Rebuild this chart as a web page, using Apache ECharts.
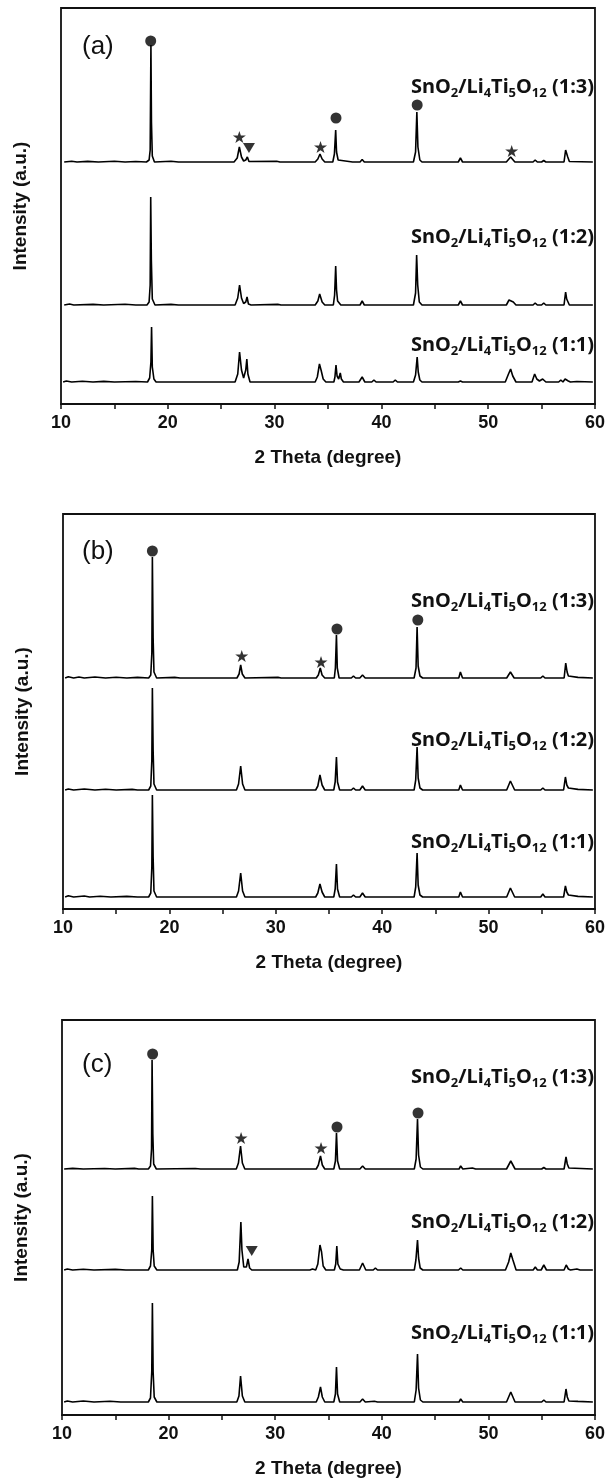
<!DOCTYPE html>
<html>
<head>
<meta charset="utf-8">
<script src="https://cdn.jsdelivr.net/npm/echarts@6/dist/echarts.min.js"></script>
<style>
html,body{margin:0;padding:0;background:#fff;}
#chart{width:608px;height:1483px;}
</style>
</head>
<body>
<div id="chart"></div>
<script>
// ---- Data (2θ in degrees, intensity in arbitrary units above each pattern's baseline) ----
const xTicks = [10, 20, 30, 40, 50, 60];
const panelNames = ['(a)', '(b)', '(c)'];
const sampleLabels = ['(1:3)', '(1:2)', '(1:1)'];

// baseline offsets of the stacked patterns (1:3, 1:2, 1:1) per panel
const offsetsA = [242, 99, 22];
const offsetsB = [231, 119, 12];
const offsetsC = [246, 145, 13];

// ---- panel (a) ----
const a13 = [[10.3,0],[11,0.8],[11.5,0],[12.5,0.6],[13.5,0],[15,0.7],[16,0],[17,0.5],[18.0,0],[18.25,2],[18.35,12],[18.42,117],[18.47,40],[18.55,6],[18.75,0],[20.3,0.8],[21,0],[26.2,0],[26.5,4],[26.7,15],[26.9,5],[27.1,1],[27.3,2],[27.45,5],[27.6,0.5],[30.2,0.8],[30.5,0],[33.8,0],[34.05,3],[34.25,8],[34.45,3],[34.7,0],[35.45,0],[35.6,8],[35.72,32],[35.8,10],[35.95,2],[36.1,0],[37.3,0],[37.45,2],[37.6,0],[38.0,0],[38.2,2.5],[38.4,0],[43.0,0],[43.2,10],[43.32,50],[43.42,15],[43.6,2],[43.8,0],[47.2,0],[47.4,4],[47.6,0],[51.7,0],[52.1,5],[52.5,0],[54.2,0],[54.4,2],[54.6,0],[55.0,0],[55.2,1.5],[55.4,0],[57.1,0],[57.25,12],[57.35,13],[57.45,5],[57.6,0.5],[59.8,0]];
const a12 = [[10.3,0],[10.8,1],[11.2,0],[13,0.6],[14,0],[16,0.7],[17,0],[18.05,0],[18.25,3],[18.35,20],[18.4,108],[18.46,45],[18.55,6],[18.8,0],[20.3,0.6],[21,0],[26.3,0],[26.55,7],[26.72,20],[26.9,7],[27.1,1.5],[27.3,3],[27.42,8],[27.55,1],[27.8,0],[30.3,0.6],[30.6,0],[33.8,0],[34.05,4],[34.22,11],[34.45,3],[34.7,0],[35.5,0],[35.62,10],[35.72,39],[35.8,15],[35.9,4],[36.05,2],[36.2,0],[37.4,0],[37.5,1],[37.7,0],[38.0,0],[38.2,4],[38.4,0],[43.0,0],[43.2,12],[43.3,50],[43.4,20],[43.55,3],[43.8,0],[47.2,0],[47.4,4],[47.6,0],[51.7,0],[51.95,5],[52.1,7],[52.35,3],[52.6,0],[54.2,0],[54.4,2],[54.6,0],[55.0,0],[55.2,2],[55.4,0],[57.1,0],[57.25,13],[57.35,6],[57.5,4],[57.6,0],[59.8,0]];
const a11 = [[10.2,0],[10.5,1],[11,0],[12,0.8],[13,0],[14,0.6],[15,0],[17,0.5],[18.1,0],[18.3,4],[18.42,20],[18.48,55],[18.55,15],[18.7,3],[18.9,0],[26.3,0],[26.55,8],[26.72,30],[26.9,12],[27.1,4],[27.3,12],[27.4,23],[27.5,8],[27.7,0],[33.8,0],[34.0,5],[34.2,18],[34.35,12],[34.55,3],[34.8,0],[35.55,0],[35.65,5],[35.75,17],[35.85,6],[36.0,3],[36.15,9],[36.25,3],[36.45,0],[37.9,0],[38.2,5],[38.45,0],[39.1,0],[39.3,2],[39.5,0],[41.1,0],[41.3,2],[41.5,0],[43.0,0],[43.2,7],[43.35,25],[43.45,10],[43.6,2],[43.8,0],[47.2,0],[47.4,1],[47.6,0],[51.6,0],[51.9,8],[52.1,13],[52.3,6],[52.6,0],[54.1,0],[54.35,8],[54.55,3],[54.8,1],[55.1,3],[55.4,0],[56.6,0],[56.8,2],[57.0,0],[57.2,3],[57.35,5],[57.5,1],[57.7,0],[58.3,0.5],[59.8,0]];

// ---- panel (b) ----
const b13 = [[10.2,0],[10.5,1.2],[11,0],[11.5,1],[12,0],[13,1],[14,0],[15,0.7],[16,0],[17,0.6],[18.05,0],[18.25,3],[18.35,25],[18.4,121],[18.47,40],[18.55,6],[18.8,0],[20.5,0.6],[21,0],[26.35,0],[26.55,4],[26.7,13],[26.85,4],[27.1,0],[30.2,0.6],[30.5,0],[33.8,0],[34.0,3],[34.18,10],[34.35,3],[34.6,0],[35.5,0],[35.6,10],[35.7,43],[35.78,10],[35.95,0],[37.1,0],[37.3,2],[37.5,0],[37.9,0],[38.15,3],[38.4,0],[43.0,0],[43.18,10],[43.28,51],[43.38,12],[43.55,2],[43.8,0],[47.2,0],[47.35,6],[47.55,0],[51.7,0],[52.05,6],[52.4,0],[54.9,0],[55.1,2],[55.3,0],[57.1,0],[57.25,15],[57.38,6],[57.5,2],[57.65,0],[58.4,0.6],[59.8,0]];
const b12 = [[10.2,0],[10.5,1],[11,0],[12,1],[13,0],[14,0.8],[15,0],[16.5,0.6],[17,0],[18.05,0],[18.25,4],[18.35,30],[18.4,102],[18.47,40],[18.55,6],[18.8,0],[26.3,0],[26.5,6],[26.7,24],[26.88,6],[27.1,0],[33.75,0],[33.95,4],[34.15,15],[34.35,5],[34.6,0],[35.45,0],[35.58,8],[35.7,33],[35.8,8],[36.0,0],[37.1,0],[37.3,2],[37.5,0],[37.9,0],[38.15,4],[38.4,0],[43.0,0],[43.15,10],[43.28,43],[43.38,12],[43.55,2],[43.8,0],[47.2,0],[47.35,5],[47.55,0],[51.7,0],[52.05,9],[52.45,0],[54.9,0],[55.1,2],[55.3,0],[57.05,0],[57.22,13],[57.35,5],[57.5,2],[57.65,0],[58.4,0.6],[59.8,0]];
const b11 = [[10.2,0],[10.5,1.2],[11,0],[12,1],[12.5,0],[13.5,0.8],[14.5,0],[16,0.6],[17,0],[18.05,0],[18.25,4],[18.35,30],[18.4,102],[18.47,40],[18.55,6],[18.8,0],[26.3,0],[26.5,6],[26.7,24],[26.88,6],[27.1,0],[33.75,0],[33.95,4],[34.15,13],[34.35,5],[34.6,0],[35.45,0],[35.58,8],[35.7,33],[35.8,8],[36.0,0],[37.1,0],[37.3,2],[37.5,0],[37.9,0],[38.15,4],[38.4,0],[43.0,0],[43.15,10],[43.28,44],[43.38,12],[43.55,2],[43.8,0],[47.2,0],[47.35,5],[47.55,0],[51.7,0],[52.05,9],[52.45,0],[54.9,0],[55.1,3],[55.3,0],[57.05,0],[57.22,11],[57.35,5],[57.5,2],[57.65,0],[58.4,0.6],[59.8,0]];

// ---- panel (c) ----
const c13 = [[10.2,0],[11,0.6],[12,0],[14,0.5],[15,0],[16.8,0.6],[17.2,0],[18.1,0],[18.3,3],[18.4,20],[18.45,109],[18.52,35],[18.6,5],[18.85,0],[22.5,0.5],[23,0],[26.35,0],[26.55,6],[26.75,23],[26.92,6],[27.15,0],[33.85,0],[34.05,4],[34.25,13],[34.42,4],[34.65,0],[35.5,0],[35.65,8],[35.75,36],[35.85,8],[36.05,0],[37.3,0],[37.45,1.5],[37.6,0],[37.95,0],[38.2,3],[38.45,0],[43.05,0],[43.22,10],[43.35,50],[43.45,14],[43.62,2],[43.85,0],[47.25,0],[47.4,3],[47.6,0],[48.5,1],[48.8,0],[51.7,0],[52.1,8],[52.5,0],[55.0,0],[55.2,1.5],[55.4,0],[57.1,0],[57.28,12],[57.4,5],[57.55,1],[57.7,0],[59.8,0]];
const c12 = [[10.2,0],[10.5,1],[11,0],[12,0.7],[13,0],[15,0.6],[16,0],[18.1,0],[18.3,4],[18.42,20],[18.48,74],[18.55,20],[18.65,4],[18.9,0],[26.45,0],[26.62,8],[26.78,48],[26.88,20],[27.05,3],[27.3,3],[27.45,11],[27.6,2],[27.8,0],[33.25,0],[33.5,1],[33.8,0],[34.0,6],[34.2,25],[34.35,18],[34.5,4],[34.75,0],[35.55,0],[35.68,6],[35.78,24],[35.88,6],[36.1,1],[36.4,0],[37.9,0],[38.2,7],[38.5,0],[39.2,0],[39.4,2],[39.6,0],[43.05,0],[43.2,10],[43.35,30],[43.45,12],[43.6,2],[43.85,0],[47.2,0],[47.4,2],[47.6,0],[51.6,0],[51.9,8],[52.1,17],[52.3,10],[52.6,0],[54.2,0],[54.4,3],[54.6,0],[54.95,0],[55.2,5],[55.45,0],[57.1,0],[57.3,5],[57.5,1],[57.7,0],[58.3,1],[58.6,0],[59.8,0]];
const c11 = [[10.2,0],[10.5,1],[11,0],[12,1],[13,0],[14.5,0.7],[15.5,0],[18.1,0],[18.3,4],[18.42,30],[18.48,99],[18.55,30],[18.65,5],[18.9,0],[26.4,0],[26.6,6],[26.75,26],[26.92,6],[27.15,0],[33.85,0],[34.05,5],[34.25,15],[34.42,5],[34.65,0],[35.5,0],[35.65,8],[35.75,35],[35.85,8],[36.05,0],[37.3,0],[37.45,1.5],[37.6,0],[37.95,0],[38.2,3],[38.45,0],[39.3,0.8],[39.6,0],[43.05,0],[43.22,12],[43.35,48],[43.45,14],[43.62,2],[43.85,0],[47.25,0],[47.4,3],[47.6,0],[51.7,0],[52.1,10],[52.5,0],[55.0,0],[55.2,2],[55.4,0],[57.1,0],[57.28,13],[57.4,5],[57.55,1],[57.7,0],[58.4,0.6],[59.8,0]];

// ---- phase markers [2θ, height on panel scale] ----
const dotsA = [[18.4,363],[35.75,286],[43.35,299]];
const starsA = [[26.7,267],[34.3,257],[52.2,253]];
const trianglesA = [[27.6,256]];
const dotsB = [[18.4,358],[35.75,280],[43.35,289]];
const starsB = [[26.8,253],[34.25,247]];
const trianglesB = [];
const dotsC = [[18.5,361],[35.8,288],[43.4,302]];
const starsC = [[26.8,277],[34.3,267]];
const trianglesC = [[27.8,164]];

// ---- layout ----
const grids = [
  {left:61, top:8, width:536, height:396},
  {left:63, top:514, width:535, height:395},
  {left:62, top:1020, width:535, height:395}
];
const yMax = [396, 395, 395];
const labelY = [[87,237,345],[601,740,842],[1077,1222,1333]];
const panelLabelY = [47, 552, 1065];

const patterns = [[a13,a12,a11],[b13,b12,b11],[c13,c12,c11]];
const offsets = [offsetsA, offsetsB, offsetsC];
const dots = [dotsA, dotsB, dotsC];
const stars = [starsA, starsB, starsC];
const tris = [trianglesA, trianglesB, trianglesC];

const STAR = 'path://M50,0 L61.2,34.5 L97.6,34.5 L68.2,55.9 L79.4,90.5 L50,69.1 L20.6,90.5 L31.8,55.9 L2.4,34.5 L38.8,34.5 Z';
const TRI = 'path://M0,0 L100,0 L50,86 Z';

const xAxes = [], yAxes = [], series = [], graphics = [];
grids.forEach((g, i) => {
  xAxes.push({
    gridIndex:i, type:'value', min:10, max:60, interval:10,
    axisLine:{show:true, lineStyle:{color:'#111', width:1.8}},
    axisTick:{show:true, length:5, lineStyle:{color:'#111', width:1.5}},
    minorTick:{show:true, splitNumber:2, length:5, lineStyle:{color:'#111', width:1.5}},
    splitLine:{show:false},
    axisLabel:{margin:10, color:'#111', fontFamily:'Liberation Sans', fontWeight:'bold', fontSize:18,
      formatter: v => xTicks.includes(v) ? String(v) : ''},
    name:'2 Theta (degree)', nameLocation:'middle', nameGap:44,
    nameTextStyle:{color:'#111', fontFamily:'Liberation Sans', fontWeight:'bold', fontSize:19}
  });
  yAxes.push({
    gridIndex:i, type:'value', min:0, max:yMax[i],
    axisLine:{show:false}, axisTick:{show:false}, axisLabel:{show:false}, splitLine:{show:false},
    name:'Intensity (a.u.)', nameLocation:'middle', nameGap:31, nameRotate:90,
    nameTextStyle:{color:'#111', fontFamily:'Liberation Sans', fontWeight:'bold', fontSize:19}
  });
  patterns[i].forEach((pat, k) => {
    const off = offsets[i][k];
    series.push({
      type:'line', xAxisIndex:i, yAxisIndex:i, showSymbol:false, silent:true,
      data: pat.map(p => [p[0], p[1] + off]),
      lineStyle:{color:'#000', width:1.6}
    });
  });
  series.push({type:'scatter', xAxisIndex:i, yAxisIndex:i, symbol:'circle', symbolSize:11,
    itemStyle:{color:'#000'}, data:dots[i], silent:true});
  series.push({type:'scatter', xAxisIndex:i, yAxisIndex:i, symbol:STAR, symbolSize:[13,12],
    itemStyle:{color:'#000'}, data:stars[i], silent:true});
  series.push({type:'scatter', xAxisIndex:i, yAxisIndex:i, symbol:TRI, symbolSize:[12,10],
    itemStyle:{color:'#000'}, data:tris[i], silent:true});

  graphics.push({type:'text', x:82, y:panelLabelY[i], style:{
    text:panelNames[i], fill:'#111', font:'26px "Liberation Sans"', verticalAlign:'middle', align:'left'}});
  sampleLabels.forEach((lab, k) => {
    graphics.push({type:'text', x:594, y:labelY[i][k], style:{
      text:'{n|SnO}{s|2}{n|/Li}{s|4}{n|Ti}{s|5}{n|O}{s|12}{n| ' + lab + '}',
      align:'right', verticalAlign:'middle',
      rich:{
        n:{fontFamily:'Noto Sans', fontWeight:'bold', fontSize:20, fill:'#111', lineHeight:26, verticalAlign:'middle'},
        s:{fontFamily:'Noto Sans', fontWeight:'bold', fontSize:13, fill:'#111', lineHeight:14, verticalAlign:'bottom'}
      }
    }});
  });
});

const chart = echarts.init(document.getElementById('chart'), null, {renderer:'canvas'});
chart.setOption({
  animation:false,
  backgroundColor:'#fff',
  grid: grids.map(g => Object.assign({show:true, borderColor:'#111', borderWidth:1.8, backgroundColor:'transparent'}, g)),
  xAxis:xAxes, yAxis:yAxes, series:series, graphic:graphics
});
</script>
</body>
</html>
